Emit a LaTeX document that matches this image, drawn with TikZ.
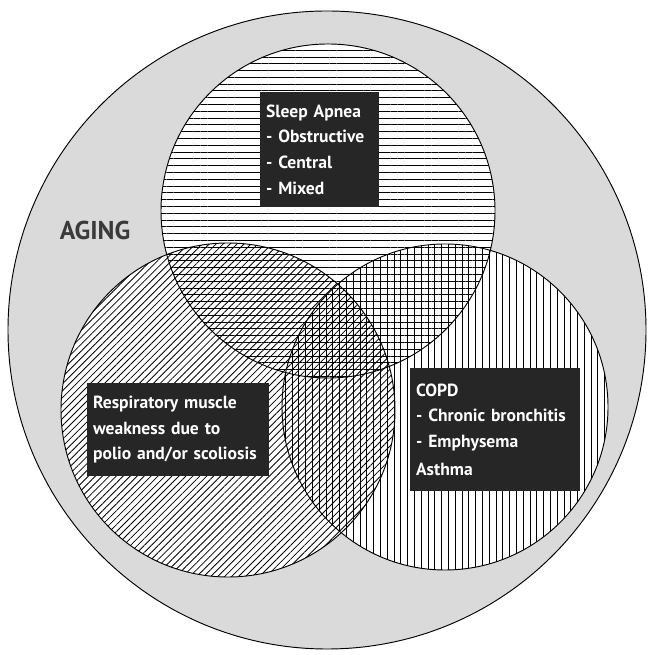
\documentclass[tikz,border=0pt]{standalone}
\usepackage{fontspec}
\newfontfamily\boxfont{PT Sans}
\usetikzlibrary{patterns.meta,positioning}
\definecolor{boxgray}{HTML}{262626}
\definecolor{aginggray}{HTML}{3A3A3A}
\definecolor{stipple}{HTML}{DADADA}
\tikzset{
        infobox/.style = {fill=boxgray, text=white,
            anchor=north west, align=left, inner xsep=5pt,
            font=\boxfont\bfseries\fontsize{15}{22}\selectfont},
        hatch/.style = {pattern={Lines[angle=#1,distance=5.8pt,line width=0.85pt]},
            pattern color=black},
        rim/.style = {draw, line width=0.8pt},
    }

\begin{document}
\begin{tikzpicture}[x=0.03cm,y=0.03cm]
    \useasboundingbox (0,0) rectangle (649,655);

    \coordinate (agec) at (327,325);
    \coordinate (sleepc) at (328,444);
    \coordinate (musclec) at (228,245);
    \coordinate (copdc) at (445,248);

    % aging background
    \fill[stipple] (agec) circle (319);
    \fill[white] (sleepc) circle (167) (musclec) circle (167) (copdc) circle (163);

    % hatching, overlaps give the cross hatch
    \path[hatch=0] (sleepc) circle (167);
    \path[pattern={Lines[angle=45,distance=4.2pt,line width=0.7pt]}] (musclec) circle (167);
    \path[hatch=90] (copdc) circle (163);

    \draw[rim] (agec) circle (319);
    \draw[rim] (sleepc) circle (167);
    \draw[rim] (musclec) circle (167);
    \draw[rim] (copdc) circle (163);

    \node[text=aginggray, font=\boxfont\bfseries\fontsize{22}{24}\selectfont] (aging) at (95,425) {AGING};

    \node[infobox, text width=3.22cm, minimum height=3.45cm] (sleep) at (260,563)
        {Sleep Apnea\\- Obstructive\\- Central\\- Mixed};
    \node[infobox, text width=4.75cm, minimum height=3.69cm] (copd) at (410,287)
        {COPD\\- Chronic bronchitis\\- Emphysema\\[2pt]Asthma};
    \node[infobox, text width=5.1cm, minimum height=2.79cm] (muscle) at (87,272)
        {Respiratory muscle\\weakness due to\\polio and/or scoliosis};
\end{tikzpicture}
\end{document}
